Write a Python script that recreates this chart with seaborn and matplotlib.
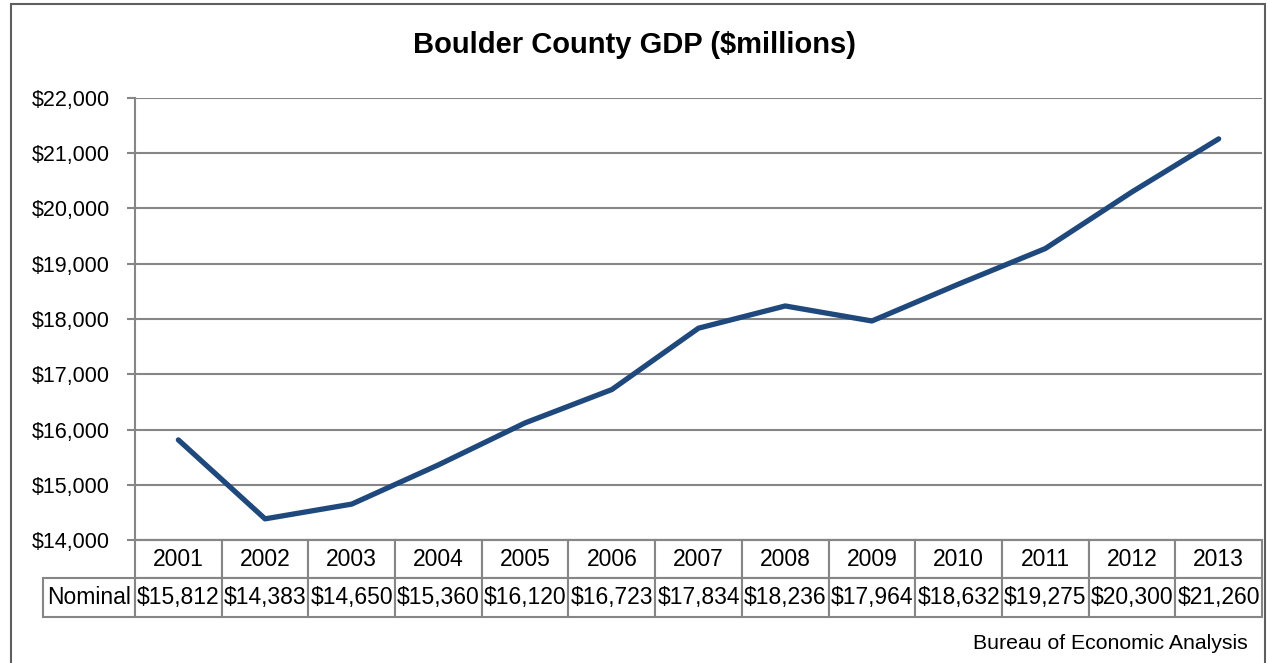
import matplotlib
matplotlib.use("Agg")
import matplotlib.pyplot as plt
import seaborn as sns
import pandas as pd
from matplotlib.patches import Rectangle
from matplotlib.ticker import FuncFormatter

years = [2001, 2002, 2003, 2004, 2005, 2006, 2007, 2008, 2009, 2010, 2011, 2012, 2013]
nominal = [15812, 14383, 14650, 15360, 16120, 16723, 17834, 18236, 17964, 18632, 19275, 20300, 21260]
row_label = "Nominal"
title = "Boulder County GDP ($millions)"
source = "Bureau of Economic Analysis"

df = pd.DataFrame({"year": years, "gdp": nominal})

sns.set_style("white")
plt.rcParams["font.family"] = ["Liberation Sans", "DejaVu Sans"]
plt.rcParams["text.color"] = "black"

grey = "#868686"
fig = plt.figure(figsize=(12.69, 6.63), dpi=100)
ax = fig.add_axes([0.1064, 0.1855, 0.8881, 0.6667])

sns.lineplot(data=df, x="year", y="gdp", ax=ax, color="#1f497d", linewidth=3.8,
             solid_capstyle="round", solid_joinstyle="round")

ax.set_xlim(years[0] - 0.5, years[-1] + 0.5)
ax.set_ylim(14000, 22000)
ax.set_yticks(range(14000, 22001, 1000))
ax.yaxis.set_major_formatter(FuncFormatter(lambda v, p: f"${v:,.0f}"))
ax.set_xticks([])
ax.set_xlabel("")
ax.set_ylabel("")
ax.grid(axis="y", color=grey, linewidth=1.5)
ax.tick_params(axis="y", which="major", left=True, length=6, width=1.5, color=grey,
               pad=12, labelsize=15.5, labelcolor="black")
for s in ["top", "right"]:
    ax.spines[s].set_visible(False)
for s in ["left", "bottom"]:
    ax.spines[s].set_color(grey)
    ax.spines[s].set_linewidth(1.5)

# data table below the plot (bbox covers the year columns, label cell sticks out left)
label_w = 92 / 1127
tbl = ax.table(cellText=[[f"${v:,.0f}" for v in nominal]],
               rowLabels=[row_label],
               colLabels=[str(y) for y in years],
               colWidths=[1 / len(years)] * len(years),
               cellLoc="center", rowLoc="center",
               bbox=[0, -0.174, 1, 0.174])
tbl.auto_set_font_size(False)
if -1 in tbl._autoColumns:
    tbl._autoColumns.remove(-1)  # keep a fixed width for the "Nominal" cell
for (r, c), cell in tbl.get_celld().items():
    cell.set_edgecolor(grey)
    cell.set_linewidth(1.5)
    cell.get_text().set_fontsize(16.5)
    cell.get_text().set_color("black")
    if c == -1:
        cell.set_width(label_w)

fig.text(0.5, 0.932, title, ha="center", va="center", fontsize=21, fontweight="bold")
fig.text(0.983, 0.03, source, ha="right", va="center", fontsize=15.3)

fig.patches.append(Rectangle((11 / 1269, -0.05), 1254 / 1269, 1.05 - 4 / 663,
                             transform=fig.transFigure, fill=False,
                             edgecolor="#5f5f5f", linewidth=1.5))

fig.savefig("out.png", dpi=100)
